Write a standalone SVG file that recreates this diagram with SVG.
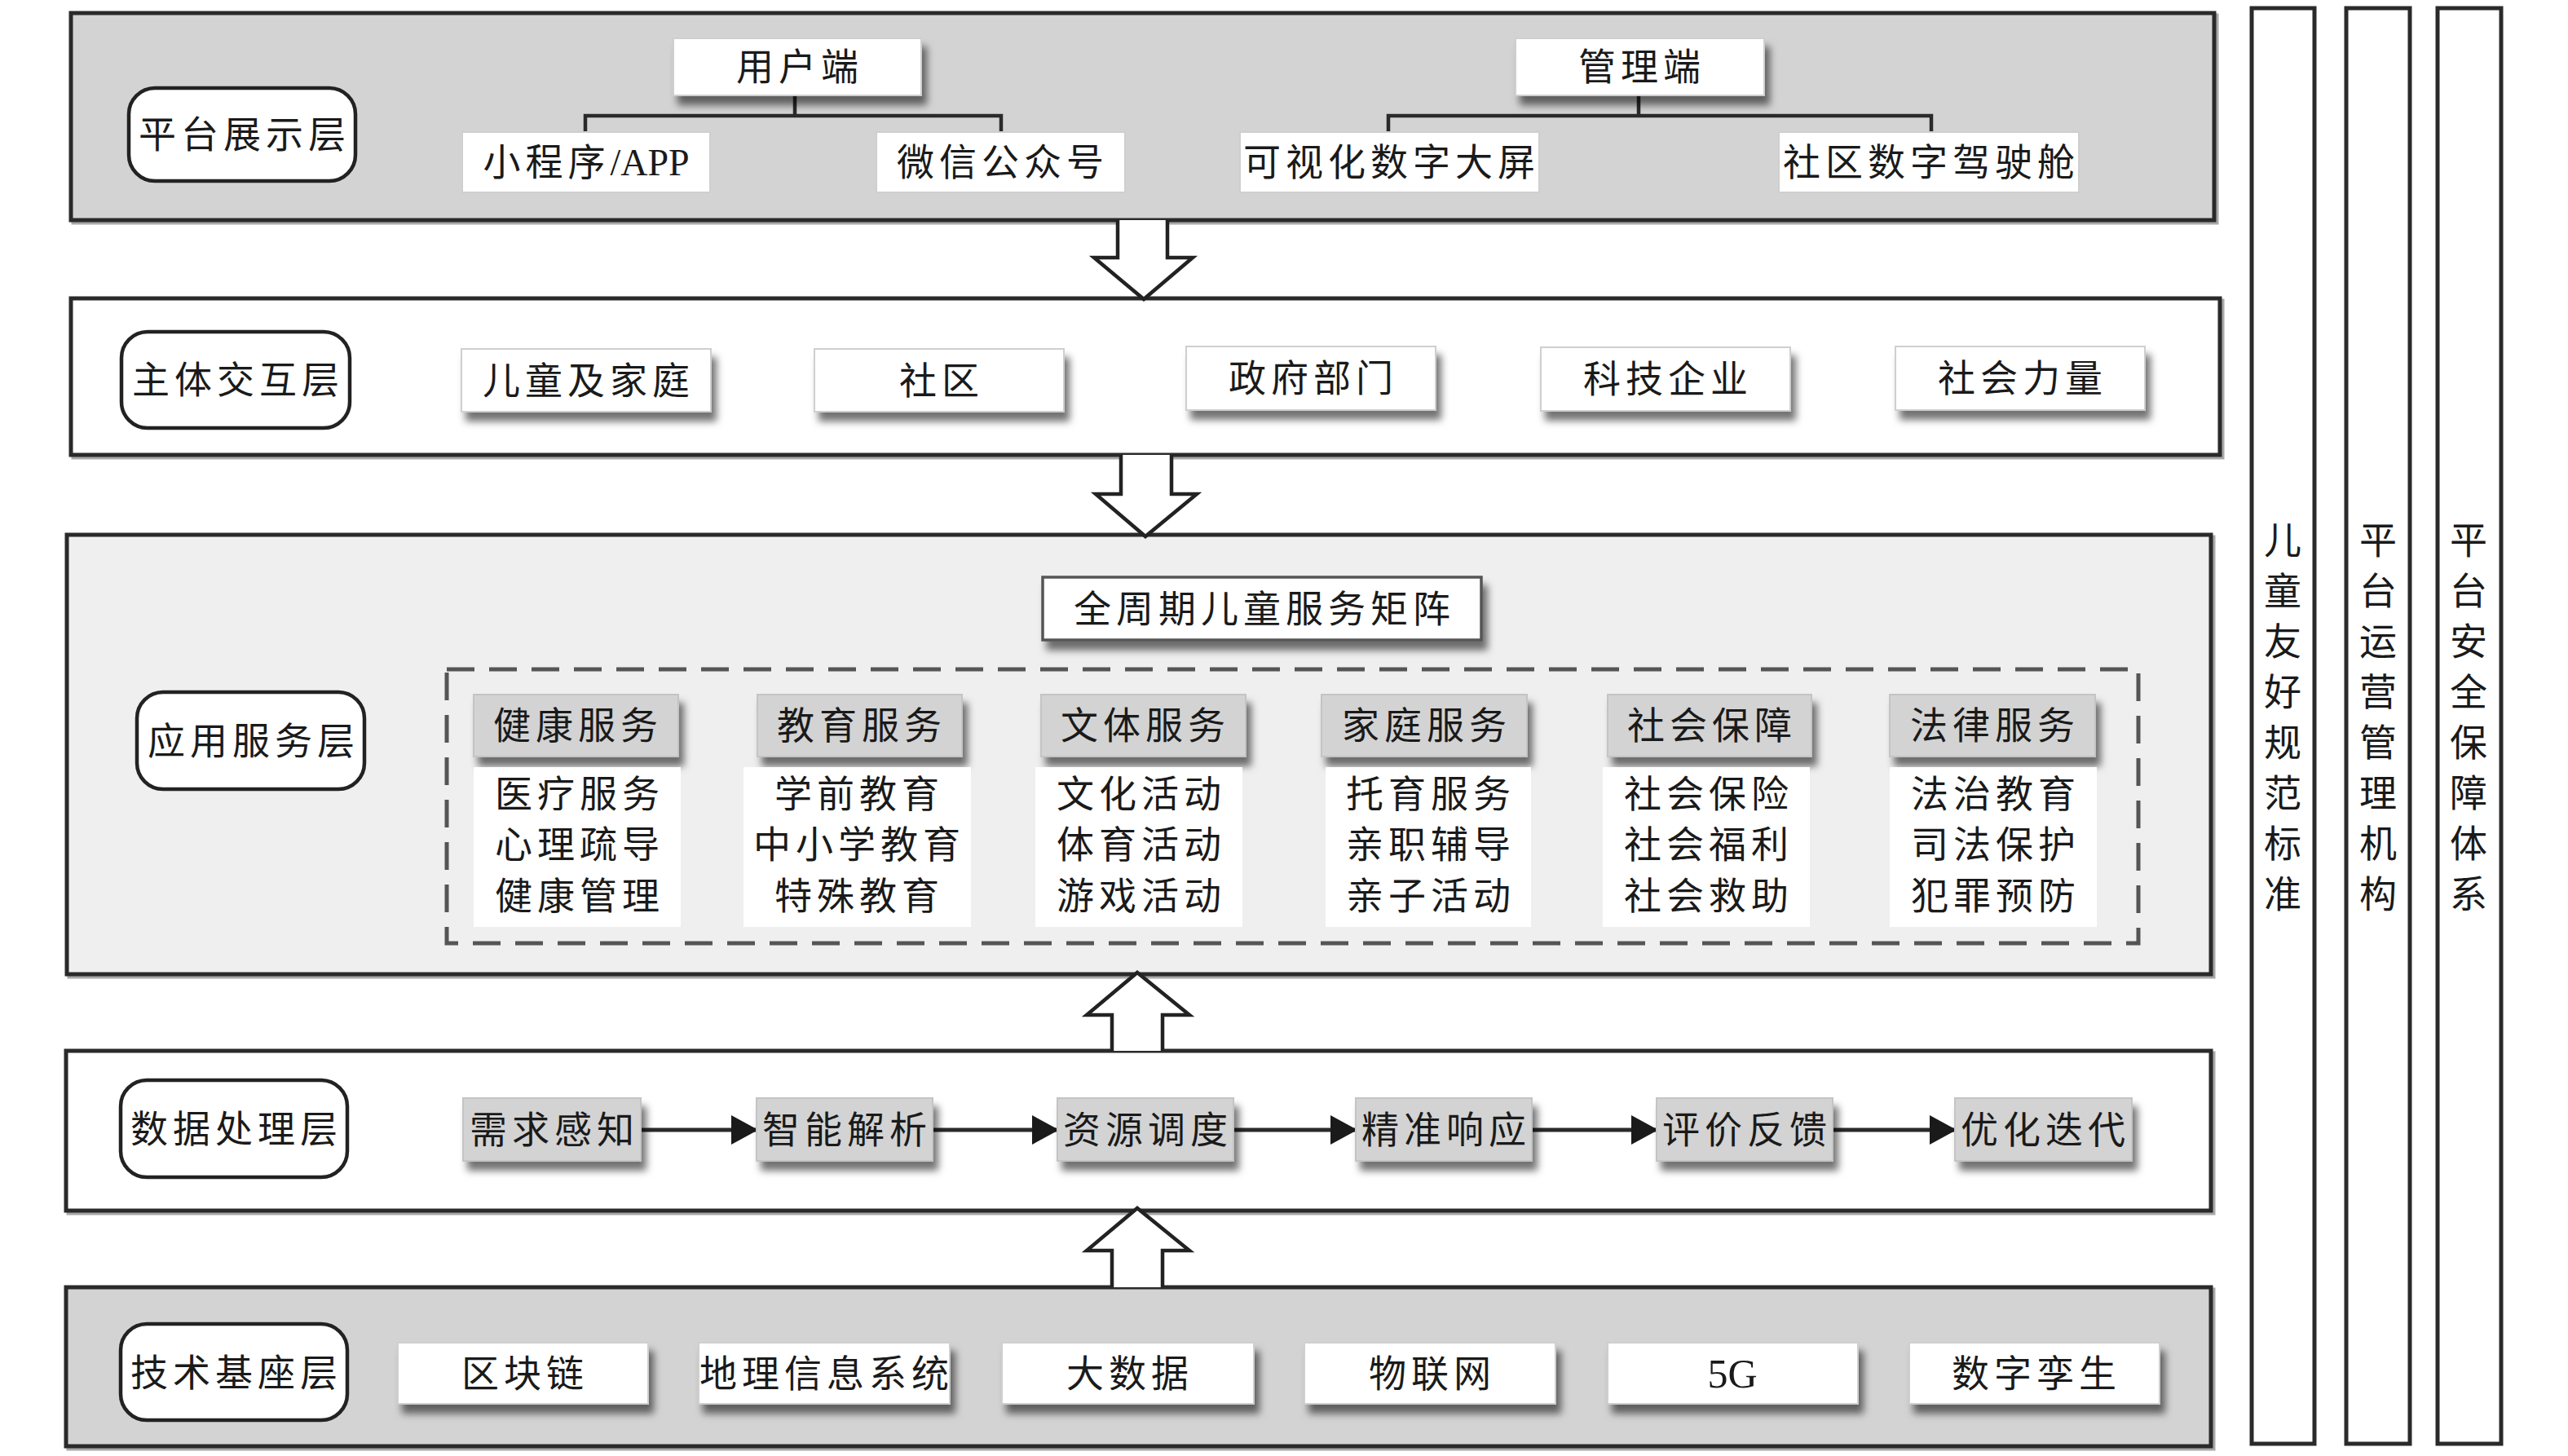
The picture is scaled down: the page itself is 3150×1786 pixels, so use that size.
<svg xmlns="http://www.w3.org/2000/svg" width="3150" height="1786" viewBox="0 0 3150 1786">
<defs>
<filter id="sh" x="-10%" y="-20%" width="130%" height="160%">
<feDropShadow dx="6" dy="11" stdDeviation="5" flood-color="#000" flood-opacity="0.55"/>
</filter>
<marker id="ah" markerUnits="userSpaceOnUse" markerWidth="34" markerHeight="36" refX="32" refY="18" orient="auto">
<path d="M0,0 L33,18 L0,36 Z" fill="#1a1a1a"/>
</marker>
<style>
text{font-family:"Liberation Serif","Noto Sans CJK SC",serif;font-size:46px;fill:#1a1a1a;letter-spacing:6px;text-anchor:middle;dominant-baseline:central}
.lat{letter-spacing:0}
.layer{stroke:#2a2a2a;stroke-width:5}
.lshadow{fill:none;stroke:#a8a8a8;stroke-width:5}
.lab{fill:#fff;stroke:#222;stroke-width:4.5}
.wb{fill:#fff;stroke:#cfcfcf;stroke-width:2}
.gb{fill:#d3d3d3;stroke:#c4c4c4;stroke-width:2}
.tree{fill:none;stroke:#2a2a2a;stroke-width:4.5}
.big{fill:#fff;stroke:#222;stroke-width:4.5;stroke-linejoin:miter}
.flow{stroke:#2a2a2a;stroke-width:5;marker-end:url(#ah)}
.bar{fill:#fff;stroke:#2a2a2a;stroke-width:5}
.vt{letter-spacing:0}
</style>
</defs>

<!-- Layer backgrounds -->
<g id="layer-platform">
<rect class="lshadow" x="90" y="19" width="2629" height="254"/>
<rect class="layer" x="87" y="16" width="2629" height="254" fill="#d3d3d3"/>
</g>
<g id="layer-interaction">
<rect class="lshadow" x="90" y="369" width="2636" height="192"/>
<rect class="layer" x="87" y="366" width="2636" height="192" fill="#fff"/>
</g>
<g id="layer-service">
<rect class="lshadow" x="85" y="659" width="2630" height="539"/>
<rect class="layer" x="82" y="656" width="2630" height="539" fill="#efefef"/>
</g>
<g id="layer-data">
<rect class="lshadow" x="84" y="1292" width="2631" height="196"/>
<rect class="layer" x="81" y="1289" width="2631" height="196" fill="#fff"/>
</g>
<g id="layer-tech">
<rect class="lshadow" x="84" y="1582" width="2631" height="195"/>
<rect class="layer" x="81" y="1579" width="2631" height="195" fill="#d3d3d3"/>
</g>

<!-- Connectors -->
<g id="connectors">
<path class="tree" d="M975,117 V142 M718,162 V142 H1228 V162"/>
<path class="tree" d="M2010,117 V142 M1703,162 V142 H2369 V162"/>
<path class="big" d="M1371,270 V316 H1342 L1403,367 L1463,316 H1432 V270"/>
<path class="big" d="M1375,558 V606 H1344 L1405,658 L1468,606 H1437 V558"/>
<path class="big" d="M1364,1289 V1245 H1333 L1395,1193 L1459,1245 H1426 V1289"/>
<path class="big" d="M1364,1579 V1534 H1333 L1395,1482 L1459,1534 H1426 V1579"/>
<line class="flow" x1="786" y1="1386" x2="929" y2="1386"/>
<line class="flow" x1="1144" y1="1386" x2="1298" y2="1386"/>
<line class="flow" x1="1513" y1="1386" x2="1664" y2="1386"/>
<line class="flow" x1="1879" y1="1386" x2="2033" y2="1386"/>
<line class="flow" x1="2248" y1="1386" x2="2399" y2="1386"/>
</g>

<!-- Layer 1 nodes -->
<g id="label-platform"><rect class="lab" x="158" y="108" width="278" height="114" rx="32"/><text x="300" y="165">平台展示层</text></g>
<g id="user-end"><rect class="wb" filter="url(#sh)" x="826" y="47" width="304" height="70"/><text x="981" y="82">用户端</text></g>
<g id="mini-app"><rect class="wb" x="567" y="162" width="304" height="74"/><text x="719" y="199">小程序<tspan class="lat">/APP</tspan></text></g>
<g id="wechat"><rect class="wb" x="1075" y="162" width="305" height="74"/><text x="1230" y="199">微信公众号</text></g>
<g id="admin-end"><rect class="wb" filter="url(#sh)" x="1859" y="47" width="305" height="70"/><text x="2014" y="82">管理端</text></g>
<g id="big-screen"><rect class="wb" x="1521" y="162" width="367" height="74"/><text x="1707" y="199">可视化数字大屏</text></g>
<g id="cockpit"><rect class="wb" x="2182" y="162" width="368" height="74"/><text x="2369" y="199">社区数字驾驶舱</text></g>

<!-- Layer 2 nodes -->
<g id="label-interaction"><rect class="lab" x="149" y="407" width="280" height="118" rx="32"/><text x="292" y="466">主体交互层</text></g>
<g id="children-family"><rect class="wb" filter="url(#sh)" x="566" y="428" width="306" height="77"/><text x="722" y="467">儿童及家庭</text></g>
<g id="community"><rect class="wb" filter="url(#sh)" x="999" y="428" width="306" height="77"/><text x="1155" y="467">社区</text></g>
<g id="government"><rect class="wb" filter="url(#sh)" x="1455" y="425" width="306" height="78"/><text x="1611" y="464">政府部门</text></g>
<g id="tech-company"><rect class="wb" filter="url(#sh)" x="1890" y="426" width="306" height="78"/><text x="2046" y="465">科技企业</text></g>
<g id="social-force"><rect class="wb" filter="url(#sh)" x="2325" y="425" width="306" height="78"/><text x="2481" y="464">社会力量</text></g>

<!-- Layer 3 nodes -->
<g id="label-service"><rect class="lab" x="168" y="849" width="279" height="119" rx="32"/><text x="311" y="909">应用服务层</text></g>
<g id="matrix"><rect filter="url(#sh)" x="1279" y="708" width="538" height="77" fill="#fff" stroke="#555" stroke-width="3.5"/><text x="1551" y="747">全周期儿童服务矩阵</text></g>
<rect id="matrix-frame" x="548" y="821" width="2075" height="336" fill="none" stroke="#555" stroke-width="5" stroke-dasharray="34 18"/>

<g id="health"><rect class="gb" filter="url(#sh)" x="581" y="852" width="251" height="76"/><text x="709" y="890">健康服务</text>
<rect x="581" y="941" width="254" height="196" fill="#fff"/><text x="711" y="974">医疗服务</text><text x="711" y="1036">心理疏导</text><text x="711" y="1099">健康管理</text></g>
<g id="education"><rect class="gb" filter="url(#sh)" x="929" y="852" width="251" height="76"/><text x="1057" y="890">教育服务</text>
<rect x="912" y="941" width="279" height="196" fill="#fff"/><text x="1054" y="974">学前教育</text><text x="1054" y="1036">中小学教育</text><text x="1054" y="1099">特殊教育</text></g>
<g id="culture-sports"><rect class="gb" filter="url(#sh)" x="1277" y="852" width="251" height="76"/><text x="1405" y="890">文体服务</text>
<rect x="1270" y="941" width="254" height="196" fill="#fff"/><text x="1400" y="974">文化活动</text><text x="1400" y="1036">体育活动</text><text x="1400" y="1099">游戏活动</text></g>
<g id="family"><rect class="gb" filter="url(#sh)" x="1621" y="852" width="252" height="76"/><text x="1750" y="890">家庭服务</text>
<rect x="1626" y="941" width="252" height="196" fill="#fff"/><text x="1755" y="974">托育服务</text><text x="1755" y="1036">亲职辅导</text><text x="1755" y="1099">亲子活动</text></g>
<g id="social-security"><rect class="gb" filter="url(#sh)" x="1972" y="852" width="250" height="76"/><text x="2100" y="890">社会保障</text>
<rect x="1966" y="941" width="254" height="196" fill="#fff"/><text x="2096" y="974">社会保险</text><text x="2096" y="1036">社会福利</text><text x="2096" y="1099">社会救助</text></g>
<g id="legal"><rect class="gb" filter="url(#sh)" x="2318" y="852" width="252" height="76"/><text x="2447" y="890">法律服务</text>
<rect x="2318" y="941" width="254" height="196" fill="#fff"/><text x="2448" y="974">法治教育</text><text x="2448" y="1036">司法保护</text><text x="2448" y="1099">犯罪预防</text></g>

<!-- Layer 4 nodes -->
<g id="label-data"><rect class="lab" x="148" y="1325" width="278" height="119" rx="32"/><text x="290" y="1385">数据处理层</text></g>
<g id="demand"><rect class="gb" filter="url(#sh)" x="568" y="1347" width="218" height="77"/><text x="680" y="1386">需求感知</text></g>
<g id="analysis"><rect class="gb" filter="url(#sh)" x="928" y="1347" width="216" height="77"/><text x="1039" y="1386">智能解析</text></g>
<g id="dispatch"><rect class="gb" filter="url(#sh)" x="1297" y="1347" width="216" height="77"/><text x="1408" y="1386">资源调度</text></g>
<g id="response"><rect class="gb" filter="url(#sh)" x="1663" y="1347" width="216" height="77"/><text x="1774" y="1386">精准响应</text></g>
<g id="feedback"><rect class="gb" filter="url(#sh)" x="2032" y="1347" width="216" height="77"/><text x="2143" y="1386">评价反馈</text></g>
<g id="iteration"><rect class="gb" filter="url(#sh)" x="2398" y="1347" width="217" height="77"/><text x="2509" y="1386">优化迭代</text></g>

<!-- Layer 5 nodes -->
<g id="label-tech"><rect class="lab" x="148" y="1624" width="278" height="118" rx="32"/><text x="290" y="1684">技术基座层</text></g>
<g id="blockchain"><rect class="wb" filter="url(#sh)" x="488" y="1647" width="307" height="75"/><text x="644" y="1685">区块链</text></g>
<g id="gis"><rect class="wb" filter="url(#sh)" x="857" y="1647" width="308" height="75"/><text x="1014" y="1685">地理信息系统</text></g>
<g id="bigdata"><rect class="wb" filter="url(#sh)" x="1229" y="1647" width="309" height="75"/><text x="1386" y="1685">大数据</text></g>
<g id="iot"><rect class="wb" filter="url(#sh)" x="1600" y="1647" width="308" height="75"/><text x="1757" y="1685">物联网</text></g>
<g id="g5"><rect class="wb" filter="url(#sh)" x="1972" y="1647" width="307" height="75"/><text class="lat" x="2125" y="1685" style="font-size:50px">5G</text></g>
<g id="twin"><rect class="wb" filter="url(#sh)" x="2342" y="1647" width="307" height="75"/><text x="2498" y="1685">数字孪生</text></g>

<!-- Right vertical bars -->
<g id="bar-standard"><rect class="bar" x="2762" y="10" width="77" height="1761"/>
<text class="vt" x="2800"><tspan x="2800" y="663">儿</tspan><tspan x="2800" y="725">童</tspan><tspan x="2800" y="787">友</tspan><tspan x="2800" y="849">好</tspan><tspan x="2800" y="911">规</tspan><tspan x="2800" y="973">范</tspan><tspan x="2800" y="1035">标</tspan><tspan x="2800" y="1097">准</tspan></text></g>
<g id="bar-operation"><rect class="bar" x="2878" y="10" width="78" height="1761"/>
<text class="vt" x="2917"><tspan x="2917" y="663">平</tspan><tspan x="2917" y="725">台</tspan><tspan x="2917" y="787">运</tspan><tspan x="2917" y="849">营</tspan><tspan x="2917" y="911">管</tspan><tspan x="2917" y="973">理</tspan><tspan x="2917" y="1035">机</tspan><tspan x="2917" y="1097">构</tspan></text></g>
<g id="bar-security"><rect class="bar" x="2990" y="10" width="78" height="1761"/>
<text class="vt" x="3028"><tspan x="3028" y="663">平</tspan><tspan x="3028" y="725">台</tspan><tspan x="3028" y="787">安</tspan><tspan x="3028" y="849">全</tspan><tspan x="3028" y="911">保</tspan><tspan x="3028" y="973">障</tspan><tspan x="3028" y="1035">体</tspan><tspan x="3028" y="1097">系</tspan></text></g>
</svg>
